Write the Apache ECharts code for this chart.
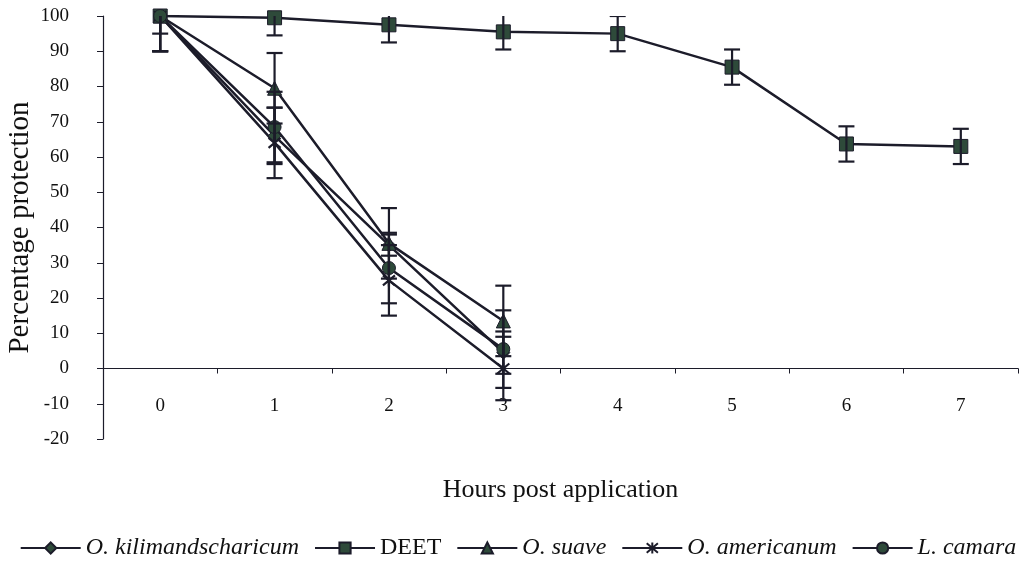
<!DOCTYPE html>
<html><head><meta charset="utf-8">
<script src="https://cdn.jsdelivr.net/npm/echarts@6/dist/echarts.min.js"></script>
<style>html,body{margin:0;padding:0;background:#fff}#c{width:1036px;height:571px}</style>
</head><body><div id="c"></div>
<script>
const hours = ['0','1','2','3','4','5','6','7'];
const seriesNames = ['O. kilimandscharicum','DEET','O. suave','O. americanum','L. camara'];
const kiliVals = [100, 66, 35, 4.5];
const kiliErr  = [10, 8, 3, 6];
const deetVals = [100, 99.5, 97.5, 95.5, 95, 85.5, 63.7, 63];
const deetErr  = [5, 5, 5, 5, 5, 5, 5, 5];
const suaveVals = [100, 79.5, 35.5, 13.5];
const suaveErr  = [10, 10, 10, 10];
const amerVals = [100, 64, 25, 0];
const amerErr  = [10, 10, 10, 9];
const camaraVals = [100, 68.5, 28.5, 5.5];
const camaraErr  = [10, 10, 10, 11];
const yTicks = {min: -20, max: 100, interval: 10};

const LINE = '#1c1c2a';
const FILL = '#2e4a3a';
const FONT = 'Liberation Serif';
const starPath = 'path://M0,0 L10,10 M10,0 L0,10 M5,-1 L5,11';

const vals = [kiliVals, deetVals, suaveVals, amerVals, camaraVals];
const errs = [kiliErr, deetErr, suaveErr, amerErr, camaraErr];
const symbols = ['diamond','rect','triangle',starPath,'circle'];
const sizes = [13, 14, 14, 12, 13];

const series = [];
seriesNames.forEach((name, i) => {
  const isStar = i === 3;
  series.push({
    name: name, type: 'line', data: vals[i],
    symbol: symbols[i], symbolSize: sizes[i], showAllSymbol: true,
    lineStyle: {color: LINE, width: 2.5},
    itemStyle: isStar ? {color: 'rgba(0,0,0,0)', borderColor: LINE, borderWidth: 2.2}
                      : {color: FILL, borderColor: LINE, borderWidth: 1},
    z: 2, animation: false
  });
});
seriesNames.forEach((name, i) => {
  series.push({
    type: 'custom', name: name + ' err', clip: true, z: 3, animation: false,
    data: vals[i].map((v, k) => [k, v, errs[i][k]]),
    renderItem: function (params, api) {
      const x = api.value(0), v = api.value(1), e = api.value(2);
      const hi = api.coord([x, v + e]);
      const lo = api.coord([x, v - e]);
      const w = 8;
      const st = {stroke: LINE, lineWidth: 2.2};
      return {type: 'group', children: [
        {type: 'line', shape: {x1: hi[0], y1: hi[1], x2: lo[0], y2: lo[1]}, style: st},
        {type: 'line', shape: {x1: hi[0]-w, y1: hi[1], x2: hi[0]+w, y2: hi[1]}, style: st},
        {type: 'line', shape: {x1: lo[0]-w, y1: lo[1], x2: lo[0]+w, y2: lo[1]}, style: st}
      ]};
    }
  });
});

const chart = echarts.init(document.getElementById('c'), null, {renderer: 'canvas'});
chart.setOption({
  backgroundColor: '#fff',
  animation: false,
  grid: {left: 103, right: 18, top: 16, bottom: 132, containLabel: false, outerBoundsMode: 'none'},
  xAxis: {
    type: 'category', data: hours, boundaryGap: true,
    axisLine: {onZero: true, lineStyle: {color: LINE, width: 1.2}},
    axisTick: {show: true, length: 5, lineStyle: {color: LINE}},
    axisLabel: {color: '#111', fontFamily: FONT, fontSize: 19, margin: -42},
    name: 'Hours post application', nameLocation: 'middle', nameGap: 38, nameMoveOverlap: false,
    nameTextStyle: {color: '#111', fontFamily: FONT, fontSize: 26},
    splitLine: {show: false}
  },
  yAxis: {
    type: 'value', min: yTicks.min, max: yTicks.max, interval: yTicks.interval,
    axisLine: {show: true, lineStyle: {color: LINE, width: 1.2}},
    axisTick: {show: true, length: 6, lineStyle: {color: LINE}},
    axisLabel: {color: '#111', fontFamily: FONT, fontSize: 19, margin: 34},
    splitLine: {show: false},
    name: 'Percentage protection', nameLocation: 'middle', nameGap: 68, nameRotate: 90,
    nameMoveOverlap: false,
    nameTextStyle: {color: '#111', fontFamily: FONT, fontSize: 29}
  },
  legend: {
    data: seriesNames, bottom: 6, left: 'center', itemWidth: 60, itemHeight: 14, itemGap: 15,
    textStyle: {fontFamily: FONT, fontSize: 24, color: '#111',
      rich: {i: {fontStyle: 'italic', fontFamily: FONT, fontSize: 24, color: '#111'},
             n: {fontFamily: FONT, fontSize: 24, color: '#111'}}},
    formatter: function (n) { return n === 'DEET' ? '{n|' + n + '}' : '{i|' + n + '}'; }
  },
  series: series
});
</script></body></html>
